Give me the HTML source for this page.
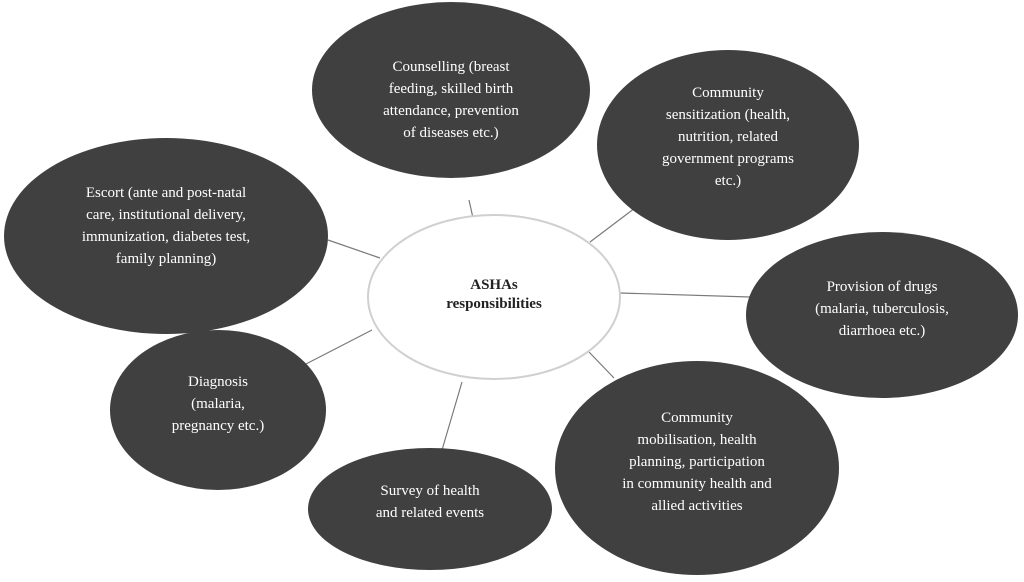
<!DOCTYPE html>
<html><head><style>
body{margin:0;background:#fff;}
svg text{font-family:"Liberation Serif",serif;font-size:15px;fill:#fff;text-anchor:middle;}
</style></head><body>
<svg width="1024" height="577" xmlns="http://www.w3.org/2000/svg">
<rect width="1024" height="577" fill="#fff"/>
<g stroke="#7a7a7a" stroke-width="1.2">
<line x1="469" y1="200" x2="473" y2="218"/>
<line x1="590" y1="242" x2="635" y2="208"/>
<line x1="328" y1="240" x2="380" y2="258"/>
<line x1="620" y1="293" x2="750" y2="297"/>
<line x1="372" y1="330" x2="304" y2="365"/>
<line x1="462" y1="382" x2="442" y2="450"/>
<line x1="589" y1="352" x2="614" y2="378"/>
</g>
<g fill="#404040">
<ellipse cx="451" cy="90" rx="139" ry="88"/>
<ellipse cx="728" cy="145" rx="131" ry="95"/>
<ellipse cx="166" cy="236" rx="162" ry="98"/>
<ellipse cx="882" cy="315" rx="136" ry="83"/>
<ellipse cx="218" cy="410" rx="108" ry="80"/>
<ellipse cx="430" cy="509" rx="122" ry="61"/>
<ellipse cx="697" cy="468" rx="142" ry="107"/>
</g>
<ellipse cx="494" cy="297" rx="126" ry="82" fill="#fff" stroke="#d0d0d0" stroke-width="2"/>
<text x="494" y="289" style="fill:#222;font-weight:bold">ASHAs</text>
<text x="494" y="308" style="fill:#222;font-weight:bold">responsibilities</text>
<text x="451" y="71">Counselling (breast</text>
<text x="451" y="93">feeding, skilled birth</text>
<text x="451" y="115">attendance, prevention</text>
<text x="451" y="137">of diseases etc.)</text>
<text x="728" y="97">Community</text>
<text x="728" y="119">sensitization (health,</text>
<text x="728" y="141">nutrition, related</text>
<text x="728" y="163">government programs</text>
<text x="728" y="185">etc.)</text>
<text x="166" y="197">Escort (ante and post-natal</text>
<text x="166" y="219">care, institutional delivery,</text>
<text x="166" y="241">immunization, diabetes test,</text>
<text x="166" y="263">family planning)</text>
<text x="882" y="291">Provision of drugs</text>
<text x="882" y="313">(malaria, tuberculosis,</text>
<text x="882" y="335">diarrhoea etc.)</text>
<text x="218" y="386">Diagnosis</text>
<text x="218" y="408">(malaria,</text>
<text x="218" y="430">pregnancy etc.)</text>
<text x="430" y="495">Survey of health</text>
<text x="430" y="517">and related events</text>
<text x="697" y="422">Community</text>
<text x="697" y="444">mobilisation, health</text>
<text x="697" y="466">planning, participation</text>
<text x="697" y="488">in community health and</text>
<text x="697" y="510">allied activities</text>
</svg>
</body></html>
